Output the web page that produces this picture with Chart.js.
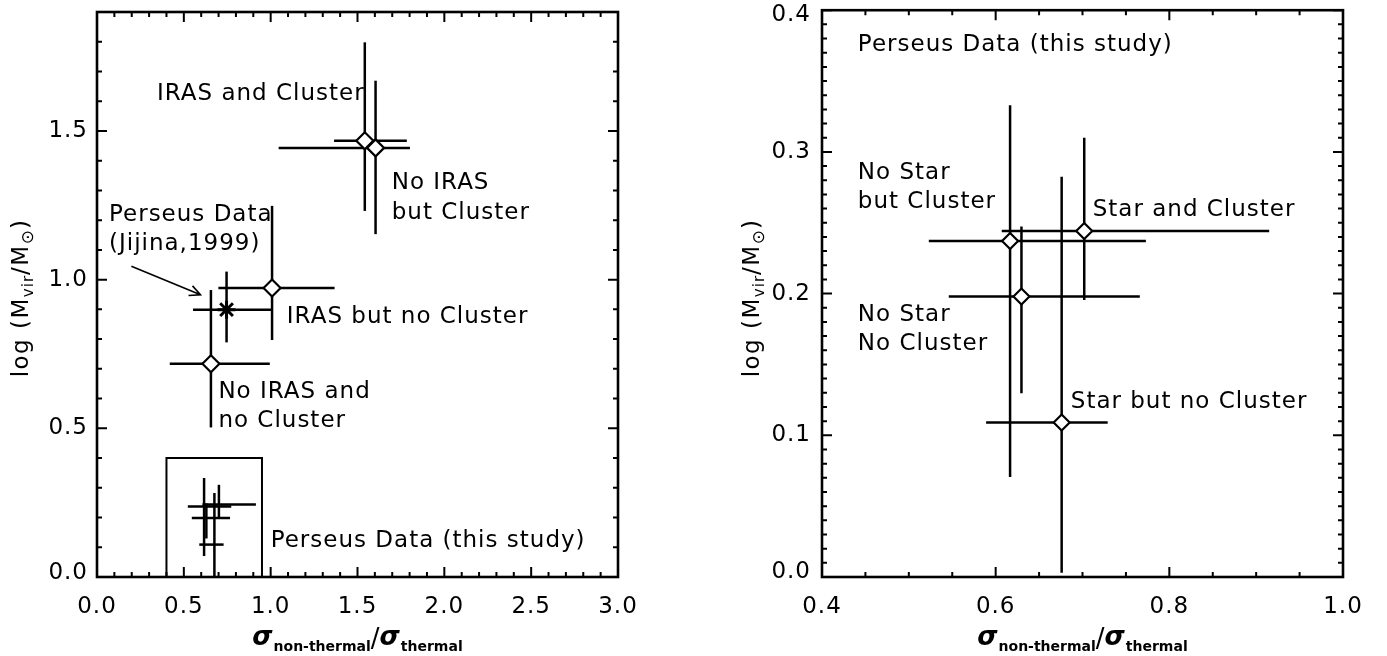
<!DOCTYPE html>
<html><head><meta charset="utf-8">
<script src="https://cdn.jsdelivr.net/npm/chart.js@4/dist/chart.umd.min.js"></script>
<style>
html,body{margin:0;padding:0;background:#fff;}
#wrap{position:relative;width:1387px;height:656px;overflow:hidden;background:#fff}
#c1{position:absolute;left:0;top:0}
#c2{position:absolute;left:700px;top:0}
</style></head><body>
<div id="wrap"><canvas id="c1" width="700" height="656"></canvas><canvas id="c2" width="687" height="656"></canvas></div>
<script>
// ---------- Left panel data (group means with ranges) ----------
const leftCategories = ['IRAS and Cluster', 'No IRAS but Cluster', 'IRAS but no Cluster', 'No IRAS and no Cluster'];
const leftX   = [1.542, 1.604, 1.008, 0.656];
const leftY   = [1.467, 1.443, 0.972, 0.717];
const leftXLo = [1.365, 1.046, 0.699, 0.419];
const leftXHi = [1.784, 1.802, 1.368, 0.995];
const leftYLo = [1.231, 1.153, 0.797, 0.503];
const leftYHi = [1.798, 1.669, 1.248, 0.965];

// Jijina (1999) Perseus point
const jijX   = [0.746];
const jijY   = [0.899];
const jijXLo = [0.553];
const jijXHi = [1.013];
const jijYLo = [0.789];
const jijYHi = [1.027];

// ---------- Right panel data (Perseus, this study) ----------
const rightCategories = ['No Star but Cluster', 'Star and Cluster', 'No Star No Cluster', 'Star but no Cluster'];
const rightX   = [0.6166, 0.702, 0.6297, 0.676];
const rightY   = [0.2371, 0.2442, 0.198, 0.109];
const rightXLo = [0.523, 0.607, 0.546, 0.589];
const rightXHi = [0.773, 0.915, 0.766, 0.729];
const rightYLo = [0.0705, 0.1954, 0.1296, 0.003];
const rightYHi = [0.333, 0.310, 0.2474, 0.2824];

// inset box on the left panel (region shown in the right panel)
const insetBoxX = [0.4, 0.95];
const insetBoxY = [0.0, 0.4];

// ---------- Tick labels ----------
const leftXTicks  = [0.0, 0.5, 1.0, 1.5, 2.0, 2.5, 3.0];
const leftYTicks  = [0.0, 0.5, 1.0, 1.5];
const rightXTicks = [0.4, 0.6, 0.8, 1.0];
const rightYTicks = [0.0, 0.1, 0.2, 0.3, 0.4];

// ---------- Annotations (text, x, y in data units) ----------
const leftNoteText = ['IRAS and Cluster', 'No IRAS', 'but Cluster', 'Perseus Data', '(Jijina,1999)', 'IRAS but no Cluster', 'No IRAS and', 'no Cluster', 'Perseus Data (this study)'];
const leftNoteX    = [0.345, 1.697, 1.697, 0.069, 0.069, 1.093, 0.699, 0.699, 1.0];
const leftNoteY    = [1.624, 1.324, 1.224, 1.217, 1.119, 0.873, 0.621, 0.523, 0.12];
const rightNoteText = ['Perseus Data (this study)', 'No Star', 'but Cluster', 'Star and Cluster', 'No Star', 'No Cluster', 'Star but no Cluster'];
const rightNoteX    = [0.4413, 0.4413, 0.4413, 0.7118, 0.4413, 0.4413, 0.6865];
const rightNoteY    = [0.3752, 0.2848, 0.2648, 0.2592, 0.1848, 0.1643, 0.1234];
const arrowFrom = [0.198, 1.045];
const arrowTo   = [0.596, 0.949];

const FONT = 'DejaVu Sans';
const FSIZE = 23;

function errorBarSets(xs, ys, xlo, xhi, ylo, yhi, w) {
  const sets = [];
  xs.forEach((x, i) => {
    sets.push({ data: [{x: xlo[i], y: ys[i]}, {x: xhi[i], y: ys[i]}], showLine: true, pointRadius: 0,
      borderColor: '#000', borderWidth: w, tension: 0, order: 2, borderCapStyle: 'butt' });
    sets.push({ data: [{x: x, y: ylo[i]}, {x: x, y: yhi[i]}], showLine: true, pointRadius: 0,
      borderColor: '#000', borderWidth: w, tension: 0, order: 2, borderCapStyle: 'butt' });
  });
  return sets;
}
function markerSet(xs, ys, style, r, fill) {
  return { data: xs.map((x, i) => ({x: x, y: ys[i]})), showLine: false, pointStyle: style,
    pointRadius: r, pointBackgroundColor: fill, pointBorderColor: '#000', pointBorderWidth: 2.2, order: 0 };
}

function xScale(min, max, ticks) {
  return { type: 'linear', position: 'bottom', min: min, max: max,
    grid: { display: false, drawTicks: false }, border: { display: false },
    ticks: { color: '#000', font: { family: FONT, size: FSIZE }, padding: 16, maxRotation: 0, autoSkip: false,
      callback: v => Number(v).toFixed(1) },
    afterBuildTicks: s => { s.ticks = ticks.map(v => ({ value: v })); },
    afterFit: s => { s.height = 79; s.paddingLeft = 0; s.paddingRight = 0; s.paddingTop = 0; s.paddingBottom = 0; } };
}
function yScale(min, max, ticks, width, pad, lh) {
  return { type: 'linear', position: 'left', min: min, max: max,
    grid: { display: false, drawTicks: false }, border: { display: false },
    ticks: { color: '#000', font: { family: FONT, size: FSIZE, lineHeight: lh }, padding: pad, autoSkip: false,
      callback: v => {
        const s = Number(v).toFixed(1);
        if (v === min) return [s, ''];
        if (v === max) return ['', s];
        return s;
      } },
    afterBuildTicks: s => { s.ticks = ticks.map(v => ({ value: v })); },
    afterFit: s => { s.width = width; s.paddingLeft = 0; s.paddingRight = 0; s.paddingTop = 0; s.paddingBottom = 0; } };
}

function drawTicks(ctx, chart, xMajor, xMinorStep, yMajor, yMinorStep) {
  const a = chart.chartArea, sx = chart.scales.x, sy = chart.scales.y;
  const big = 10, small = 5;
  ctx.save();
  ctx.strokeStyle = '#000'; ctx.lineWidth = 2;
  const isMajor = (v, arr) => arr.some(m => Math.abs(m - v) < 1e-6);
  const list = (mn, mx, st) => { const o = []; const n = Math.round((mx - mn) / st); for (let k = 0; k <= n; k++) o.push(Math.round((mn + k * st) * 1e6) / 1e6); return o; };
  ctx.beginPath();
  list(sx.min, sx.max, xMinorStep).forEach(v => {
    const L = isMajor(v, xMajor) ? big : small; const p = sx.getPixelForValue(v);
    ctx.moveTo(p, a.bottom); ctx.lineTo(p, a.bottom - L);
    ctx.moveTo(p, a.top); ctx.lineTo(p, a.top + L);
  });
  list(sy.min, sy.max, yMinorStep).forEach(v => {
    const L = isMajor(v, yMajor) ? big : small; const p = sy.getPixelForValue(v);
    ctx.moveTo(a.left, p); ctx.lineTo(a.left + L, p);
    ctx.moveTo(a.right, p); ctx.lineTo(a.right - L, p);
  });
  ctx.stroke();
  ctx.lineWidth = 2.6;
  ctx.strokeRect(a.left, a.top, a.right - a.left, a.bottom - a.top);
  ctx.restore();
}
function drawNotes(ctx, chart, texts, xs, ys) {
  const sx = chart.scales.x, sy = chart.scales.y;
  ctx.save();
  ctx.fillStyle = '#000'; ctx.font = FSIZE + 'px ' + FONT; ctx.letterSpacing = '1px';
  ctx.textAlign = 'left'; ctx.textBaseline = 'middle';
  texts.forEach((t, i) => ctx.fillText(t, sx.getPixelForValue(xs[i]), sy.getPixelForValue(ys[i])));
  ctx.restore();
}
function drawYTitle(ctx, cx, cy) {
  const parts = [['log (M', 0], ['vir', 1], ['/M', 0], ['\u2299', 2], [')', 0]];
  ctx.save();
  ctx.translate(cx, cy); ctx.rotate(-Math.PI / 2);
  ctx.fillStyle = '#000'; ctx.textAlign = 'left'; ctx.textBaseline = 'alphabetic';
  const fonts = [FSIZE + 'px ' + FONT, '15px ' + FONT, '17px ' + FONT];
  const spacing = ['1.5px', '1px', '1px'];
  let total = 0; const ws = [];
  parts.forEach(p => { ctx.font = fonts[p[1]]; ctx.letterSpacing = spacing[p[1]]; const w = ctx.measureText(p[0]).width; ws.push(w); total += w; });
  let x = -total / 2; const base = 8.3;
  parts.forEach((p, i) => { ctx.font = fonts[p[1]]; ctx.letterSpacing = spacing[p[1]]; ctx.fillText(p[0], x, p[1] ? base + 5 : base); x += ws[i]; });
  ctx.restore();
}
function drawXTitle(ctx, cx, base) {
  const parts = [['\u03C3', 0], ['non-thermal', 1], ['/', 2], ['\u03C3', 0], ['thermal', 1]];
  const fonts = ['italic bold 26px ' + FONT, 'bold 14px ' + FONT, '26px ' + FONT];
  const offs = [0, 6, 2];
  ctx.save();
  ctx.fillStyle = '#000'; ctx.textAlign = 'left'; ctx.textBaseline = 'alphabetic'; ctx.letterSpacing = '0px';
  let total = 0; const ws = [];
  parts.forEach(p => { ctx.font = fonts[p[1]]; const w = ctx.measureText(p[0]).width + (p[1] === 0 ? 1 : 0); ws.push(w); total += w; });
  let x = cx - total / 2;
  parts.forEach((p, i) => { ctx.font = fonts[p[1]]; ctx.fillText(p[0], x, base + offs[p[1]]); x += ws[i]; });
  ctx.restore();
}

function makePlugin(opts) {
  return {
    id: 'idlframe',
    beforeDraw(chart) { chart.ctx.letterSpacing = '1px'; },
    afterDraw(chart) {
      const ctx = chart.ctx;
      drawTicks(ctx, chart, opts.xMajor, opts.xMinor, opts.yMajor, opts.yMinor);
      drawNotes(ctx, chart, opts.noteText, opts.noteX, opts.noteY);
      if (opts.arrow) {
        const sx = chart.scales.x, sy = chart.scales.y;
        const x1 = sx.getPixelForValue(arrowFrom[0]), y1 = sy.getPixelForValue(arrowFrom[1]);
        const x2 = sx.getPixelForValue(arrowTo[0]), y2 = sy.getPixelForValue(arrowTo[1]);
        const ang = Math.atan2(y2 - y1, x2 - x1), L = 12;
        ctx.save(); ctx.strokeStyle = '#000'; ctx.lineWidth = 1.6; ctx.beginPath();
        ctx.moveTo(x1, y1); ctx.lineTo(x2, y2);
        ctx.moveTo(x2 - L * Math.cos(ang - 0.45), y2 - L * Math.sin(ang - 0.45)); ctx.lineTo(x2, y2);
        ctx.lineTo(x2 - L * Math.cos(ang + 0.45), y2 - L * Math.sin(ang + 0.45));
        ctx.stroke(); ctx.restore();
      }
      const a = chart.chartArea;
      drawYTitle(ctx, opts.yTitleX, opts.yTitleY);
      drawXTitle(ctx, (a.left + a.right) / 2, 645);
    }
  };
}

const common = { responsive: false, animation: false, devicePixelRatio: 1, events: [],
  plugins: { legend: { display: false }, tooltip: { enabled: false } } };

// Left chart
const leftSets = [markerSet(leftX, leftY, 'rectRot', 8.5, '#fff'),
  Object.assign(markerSet(jijX, jijY, 'star', 9, '#000'), { pointBorderWidth: 3 })]
  .concat(errorBarSets(leftX, leftY, leftXLo, leftXHi, leftYLo, leftYHi, 2.5))
  .concat(errorBarSets(jijX, jijY, jijXLo, jijXHi, jijYLo, jijYHi, 2.5))
  .concat(errorBarSets(rightX, rightY, rightXLo, rightXHi, rightYLo, rightYHi, 2.5))
  .concat([{ data: [{x: insetBoxX[0], y: insetBoxY[0]}, {x: insetBoxX[0], y: insetBoxY[1]}, {x: insetBoxX[1], y: insetBoxY[1]}, {x: insetBoxX[1], y: insetBoxY[0]}],
    showLine: true, pointRadius: 0, borderColor: '#000', borderWidth: 2, tension: 0, order: 3 }]);

new Chart(document.getElementById('c1'), {
  type: 'scatter',
  data: { datasets: leftSets },
  options: Object.assign({}, common, {
    layout: { padding: { left: 0, top: 5, right: 82, bottom: 0 } },
    scales: { x: xScale(0, 3, leftXTicks), y: yScale(0, 1.9, leftYTicks, 97, 9, 0.35) }
  }),
  plugins: [makePlugin({ xMajor: leftXTicks, xMinor: 0.1, yMajor: leftYTicks, yMinor: 0.1,
    noteText: leftNoteText, noteX: leftNoteX, noteY: leftNoteY, arrow: true, yTitleX: 20, yTitleY: 298 })]
});

// Right chart
const rightSets = [markerSet(rightX, rightY, 'rectRot', 8, '#fff')]
  .concat(errorBarSets(rightX, rightY, rightXLo, rightXHi, rightYLo, rightYHi, 2.5));

new Chart(document.getElementById('c2'), {
  type: 'scatter',
  data: { datasets: rightSets },
  options: Object.assign({}, common, {
    layout: { padding: { left: 0, top: 5, right: 44, bottom: 0 } },
    scales: { x: xScale(0.4, 1.0, rightXTicks), y: yScale(0, 0.4, rightYTicks, 122, 11, 0.46) }
  }),
  plugins: [makePlugin({ xMajor: rightXTicks, xMinor: 0.05, yMajor: rightYTicks, yMinor: 0.01,
    noteText: rightNoteText, noteX: rightNoteX, noteY: rightNoteY, arrow: false, yTitleX: 51, yTitleY: 298 })]
});
</script>
</body></html>
